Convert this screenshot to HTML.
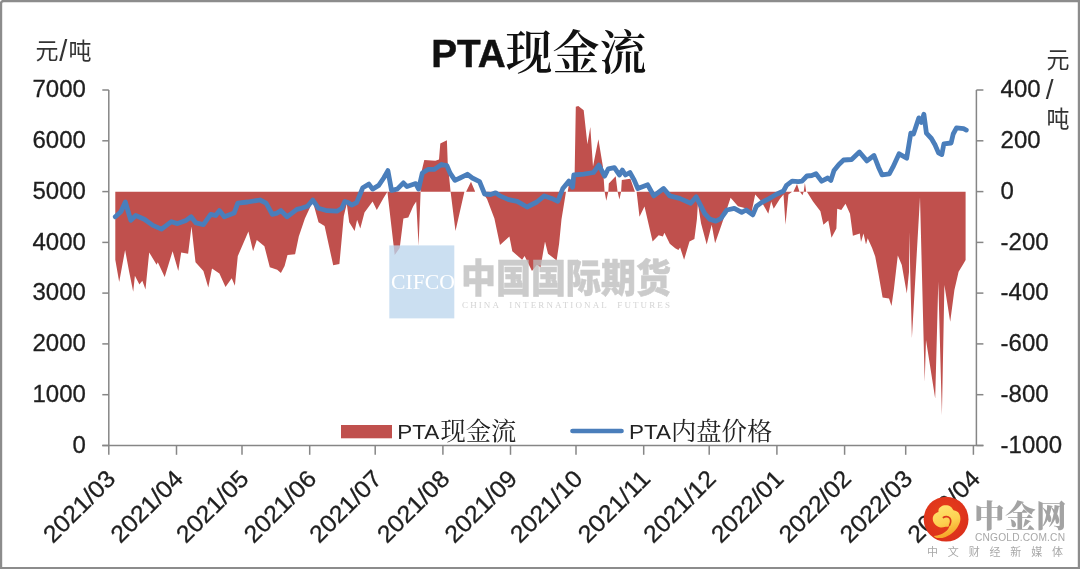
<!DOCTYPE html>
<html lang="zh"><head><meta charset="utf-8"><title>PTA现金流</title>
<style>html,body{margin:0;padding:0;background:#fff}body{width:1080px;height:569px;overflow:hidden}svg{display:block}</style>
</head><body>
<svg width="1080" height="569" viewBox="0 0 1080 569">
<rect x="0" y="0" width="1080" height="569" fill="#fff"/>
<polygon points="115.3,191.7 115.3,259.8 119.2,282.0 125.1,250.0 129.0,270.9 133.2,291.8 134.9,275.8 139.4,284.4 142.3,280.7 145.5,289.4 149.2,252.4 156.6,264.7 157.8,262.3 164.7,277.0 172.6,251.2 178.3,270.9 181.2,252.4 188.1,253.7 191.5,226.6 195.5,262.3 203.4,270.9 208.3,287.6 212.0,268.4 219.4,273.4 225.5,286.9 231.7,278.3 234.9,285.7 237.8,256.1 248.4,231.5 253.1,251.2 256.8,240.1 264.4,246.3 269.8,267.2 277.2,269.7 280.9,272.9 284.6,266.0 287.5,254.9 295.1,254.2 298.8,236.4 304.9,218.6 312.8,201.4 318.5,222.3 324.6,226.0 333.2,265.3 339.4,264.1 343.8,216.1 346.8,203.8 349.2,222.3 354.6,230.9 357.1,219.8 360.3,228.4 364.5,212.4 372.6,201.4 376.8,210.0 383.7,197.7 387.4,191.7 394.7,255.0 399.7,248.1 403.4,218.6 408.3,217.4 413.2,206.3 416.2,201.4 418.6,245.7 420.6,191.7 421.8,170.6 424.3,160.0 435.3,160.8 439.0,159.5 440.3,143.5 446.9,140.3 447.7,162.0 450.6,191.7 455.5,230.9 464.4,191.7 466.1,191.7 471.0,181.7 475.2,191.7 482.1,191.7 487.0,198.9 494.4,218.6 500.0,245.1 509.4,236.4 512.3,251.2 522.1,259.8 524.6,256.1 532.0,270.9 536.9,264.7 540.6,267.2 545.0,241.4 548.0,253.7 556.6,260.6 559.1,243.8 561.5,219.2 566.0,191.7 567.7,191.7 569.4,181.6 573.3,179.2 574.6,176.2 575.8,106.8 578.3,106.1 583.7,110.3 587.4,144.2 590.3,127.0 593.0,166.4 598.4,139.3 602.9,166.4 604.6,191.7 606.3,200.8 608.3,191.7 608.8,183.6 615.7,176.2 617.6,191.7 619.4,199.6 621.1,191.7 621.8,179.9 630.4,178.7 634.9,191.7 636.6,191.7 639.5,216.8 644.5,206.4 652.6,241.4 658.7,235.2 662.9,236.4 664.4,232.8 669.8,243.8 675.2,248.3 678.4,250.0 680.1,247.5 684.1,259.8 689.5,241.4 694.4,238.9 696.9,219.2 697.9,203.8 701.1,223.5 706.7,244.4 711.7,224.7 715.1,243.2 722.0,223.5 730.6,197.7 738.0,206.3 745.4,208.3 751.5,212.4 755.2,194.5 761.4,201.4 768.3,213.7 771.2,201.4 773.7,208.7 779.8,198.9 783.5,194.5 785.5,224.7 788.4,194.5 792.1,191.7 793.4,191.7 797.0,184.1 799.5,191.7 800.0,191.7 802.5,195.2 803.7,191.7 804.9,182.9 806.2,191.7 806.9,191.7 813.0,201.4 820.4,211.2 823.4,224.7 828.3,220.6 831.5,237.8 836.4,228.4 837.2,208.7 841.3,210.0 845.5,203.8 850.0,213.7 852.9,235.8 859.8,233.4 861.0,242.0 863.5,233.4 866.0,244.4 867.7,238.3 872.1,248.1 875.2,256.4 878.4,273.4 882.6,297.5 889,298.6 891.5,306 893.8,290 897.8,255.5 901.8,265 906.8,293.4 909.0,272 909.5,232 910.2,272 911.9,338 920,197.3 924.7,382 926,340 935.2,398.5 938.3,281.8 941.9,415 944.4,285 950.2,321.8 954.4,290 958.6,271.7 963.6,263.4 965.6,260 965.6,191.7" fill="#c0504d"/>
<g stroke="#868686" stroke-width="1.5" fill="none">
<line x1="108.8" y1="90.0" x2="108.8" y2="445.5"/>
<line x1="976.4" y1="90.0" x2="976.4" y2="445.5"/>
<line x1="102.3" y1="445.5" x2="983.4" y2="445.5"/>
<line x1="102.3" y1="90.0" x2="108.8" y2="90.0"/>
<line x1="976.4" y1="90.0" x2="983.4" y2="90.0"/>
<line x1="102.3" y1="140.8" x2="108.8" y2="140.8"/>
<line x1="976.4" y1="140.8" x2="983.4" y2="140.8"/>
<line x1="102.3" y1="191.6" x2="108.8" y2="191.6"/>
<line x1="976.4" y1="191.6" x2="983.4" y2="191.6"/>
<line x1="102.3" y1="242.4" x2="108.8" y2="242.4"/>
<line x1="976.4" y1="242.4" x2="983.4" y2="242.4"/>
<line x1="102.3" y1="293.1" x2="108.8" y2="293.1"/>
<line x1="976.4" y1="293.1" x2="983.4" y2="293.1"/>
<line x1="102.3" y1="343.9" x2="108.8" y2="343.9"/>
<line x1="976.4" y1="343.9" x2="983.4" y2="343.9"/>
<line x1="102.3" y1="394.7" x2="108.8" y2="394.7"/>
<line x1="976.4" y1="394.7" x2="983.4" y2="394.7"/>
<line x1="102.3" y1="445.5" x2="108.8" y2="445.5"/>
<line x1="976.4" y1="445.5" x2="983.4" y2="445.5"/>
<line x1="108.8" y1="445.5" x2="108.8" y2="454.8"/>
<line x1="176.5" y1="445.5" x2="176.5" y2="454.8"/>
<line x1="242.0" y1="445.5" x2="242.0" y2="454.8"/>
<line x1="309.7" y1="445.5" x2="309.7" y2="454.8"/>
<line x1="375.2" y1="445.5" x2="375.2" y2="454.8"/>
<line x1="442.9" y1="445.5" x2="442.9" y2="454.8"/>
<line x1="510.5" y1="445.5" x2="510.5" y2="454.8"/>
<line x1="576.0" y1="445.5" x2="576.0" y2="454.8"/>
<line x1="643.7" y1="445.5" x2="643.7" y2="454.8"/>
<line x1="709.2" y1="445.5" x2="709.2" y2="454.8"/>
<line x1="776.9" y1="445.5" x2="776.9" y2="454.8"/>
<line x1="844.6" y1="445.5" x2="844.6" y2="454.8"/>
<line x1="905.7" y1="445.5" x2="905.7" y2="454.8"/>
<line x1="973.4" y1="445.5" x2="973.4" y2="454.8"/>
</g>
<polyline points="115.3,216.8 120.9,211.8 125.3,202.0 130.8,220.4 135.7,215.5 144.3,219.2 152.9,225.4 161.5,229.1 171.4,221.7 177.5,223.6 186.1,220.4 191.1,216.8 196.0,222.9 203.4,224.6 210.7,214.3 215.7,215.5 219.4,210.6 224.3,216.8 234.1,213.1 237.8,203.2 247.7,202.0 260.0,200.0 266.1,203.2 272.3,214.3 277.2,213.1 280.9,210.6 287.0,216.8 296.9,209.4 300.0,208.7 307.4,206.3 312.8,200.1 318.5,208.3 327.1,210.7 336.9,211.2 341.8,208.3 344.8,201.4 348.0,202.6 351.7,205.1 356.6,202.6 362.8,187.8 368.9,184.1 372.6,189.1 378.7,185.4 383.7,178.0 387.9,170.6 391.5,190.3 397.2,189.1 403.4,182.9 407.0,186.6 415.7,183.6 418.6,189.1 422.3,173.1 428.0,169.4 434.1,169.4 441.5,164.5 446.9,165.7 450.1,173.1 455.0,180.4 460.0,178.0 467.3,174.3 472.3,178.0 479.6,181.7 484.6,194.0 490.7,194.5 495.6,192.8 500.0,195.9 508.6,199.6 517.2,201.3 527.1,207.0 536.9,202.0 544.3,195.9 551.7,198.4 557.8,201.3 562.8,188.5 568.9,181.1 572.6,187.3 573.8,175.0 583.7,174.2 593.5,172.5 598.9,165.1 604.6,176.2 608.3,168.8 614.4,167.6 619.4,175.0 622.3,170.1 625.5,175.0 629.9,172.5 634.1,179.9 637.8,188.5 647.7,184.8 653.8,195.9 663.6,188.5 669.8,195.9 679.6,198.4 690.7,203.3 696.2,196.9 699.8,203.8 704.8,213.7 709.7,219.1 715.8,221.1 720.8,218.6 726.9,210.0 734.3,208.3 741.7,212.4 746.1,210.0 752.8,214.9 756.4,206.3 761.4,202.6 768.7,198.9 776.1,194.5 783.5,191.0 786.5,185.4 792.1,181.2 798.3,181.7 802.0,181.2 806.9,176.0 811.8,175.5 816.0,173.8 821.7,181.2 827.8,178.0 830.8,180.4 834.0,170.6 838.9,164.5 843.6,160.0 851.6,159.5 859.4,152.0 866.9,160.9 874.0,155.5 878.5,167.2 882.1,174.9 889.3,173.8 892.9,167.2 899.1,153.8 906.7,158.2 910.8,133.1 913.5,134.0 918.8,117.9 921.5,122.4 923.9,114.3 926.4,133.1 931.4,138.5 935.0,144.8 938.5,152.9 941.8,154.6 943.9,143.9 951.1,143.0 953.2,134.0 956.5,127.8 963.6,128.7 966.3,130.1" fill="none" stroke="#4a7ebb" stroke-width="4.8" stroke-linejoin="round" stroke-linecap="round"/>
<g font-family="'Liberation Sans', sans-serif" font-size="24" fill="#1c1c1c" stroke="#1c1c1c" stroke-width="0.3" opacity="0.99">
<text x="85.9" y="97.3" text-anchor="end">7000</text>
<text x="1000.6" y="97.3">400</text>
<text x="85.9" y="148.1" text-anchor="end">6000</text>
<text x="1000.6" y="148.1">200</text>
<text x="85.9" y="198.9" text-anchor="end">5000</text>
<text x="1000.6" y="198.9">0</text>
<text x="85.9" y="249.7" text-anchor="end">4000</text>
<text x="1000.6" y="249.7">-200</text>
<text x="85.9" y="300.4" text-anchor="end">3000</text>
<text x="1000.6" y="300.4">-400</text>
<text x="85.9" y="351.2" text-anchor="end">2000</text>
<text x="1000.6" y="351.2">-600</text>
<text x="85.9" y="402.0" text-anchor="end">1000</text>
<text x="1000.6" y="402.0">-800</text>
<text x="85.9" y="452.8" text-anchor="end">0</text>
<text x="1000.6" y="452.8">-1000</text>
<text transform="translate(116.89999999999999,480.2) rotate(-45)" text-anchor="end" textLength="90.5" lengthAdjust="spacingAndGlyphs">2021/03</text>
<text transform="translate(184.6,480.2) rotate(-45)" text-anchor="end" textLength="90.5" lengthAdjust="spacingAndGlyphs">2021/04</text>
<text transform="translate(250.1,480.2) rotate(-45)" text-anchor="end" textLength="90.5" lengthAdjust="spacingAndGlyphs">2021/05</text>
<text transform="translate(317.8,480.2) rotate(-45)" text-anchor="end" textLength="90.5" lengthAdjust="spacingAndGlyphs">2021/06</text>
<text transform="translate(383.3,480.2) rotate(-45)" text-anchor="end" textLength="90.5" lengthAdjust="spacingAndGlyphs">2021/07</text>
<text transform="translate(451.0,480.2) rotate(-45)" text-anchor="end" textLength="90.5" lengthAdjust="spacingAndGlyphs">2021/08</text>
<text transform="translate(518.6,480.2) rotate(-45)" text-anchor="end" textLength="90.5" lengthAdjust="spacingAndGlyphs">2021/09</text>
<text transform="translate(584.1,480.2) rotate(-45)" text-anchor="end" textLength="90.5" lengthAdjust="spacingAndGlyphs">2021/10</text>
<text transform="translate(651.8000000000001,480.2) rotate(-45)" text-anchor="end" textLength="90.5" lengthAdjust="spacingAndGlyphs">2021/11</text>
<text transform="translate(717.3000000000001,480.2) rotate(-45)" text-anchor="end" textLength="90.5" lengthAdjust="spacingAndGlyphs">2021/12</text>
<text transform="translate(785.0,480.2) rotate(-45)" text-anchor="end" textLength="90.5" lengthAdjust="spacingAndGlyphs">2022/01</text>
<text transform="translate(852.7,480.2) rotate(-45)" text-anchor="end" textLength="90.5" lengthAdjust="spacingAndGlyphs">2022/02</text>
<text transform="translate(913.8000000000001,480.2) rotate(-45)" text-anchor="end" textLength="90.5" lengthAdjust="spacingAndGlyphs">2022/03</text>
<text transform="translate(981.5,480.2) rotate(-45)" text-anchor="end" textLength="90.5" lengthAdjust="spacingAndGlyphs">2022/04</text>
</g>
<g font-family="'Liberation Sans', 'Noto Sans CJK SC', sans-serif" font-size="23" fill="#333">
<text x="35.5" y="59.3">元</text><text x="59.3" y="61" font-size="29">/</text><text x="68.6" y="59.3">吨</text>
<text x="1046.5" y="67.5">元</text><text x="1045.7" y="99" font-size="28">/</text><text x="1046.5" y="127">吨</text>
</g>
<text x="431.3" y="67.3" font-size="38.8" font-weight="bold" fill="#111" stroke="#111" stroke-width="0.5" font-family="'Liberation Sans', sans-serif" textLength="74.5" lengthAdjust="spacingAndGlyphs">PTA</text>
<text x="505.5" y="68.5" font-size="47" font-weight="600" fill="#111" font-family="'Liberation Serif', 'Noto Serif CJK SC', serif">现金流</text>
<rect x="341" y="425" width="51" height="13.3" fill="#c0504d"/>
<text x="397.3" y="439.2" font-size="20.5" fill="#222" font-family="'Liberation Sans', sans-serif" textLength="42" lengthAdjust="spacingAndGlyphs">PTA</text>
<text x="440.5" y="439.5" font-size="25.3" fill="#222" font-family="'Liberation Serif', 'Noto Serif CJK SC', serif">现金流</text>
<line x1="572.5" y1="431" x2="621.5" y2="431" stroke="#4a7ebb" stroke-width="4.7" stroke-linecap="round"/>
<text x="629" y="439.2" font-size="20.5" fill="#222" font-family="'Liberation Sans', sans-serif" textLength="42" lengthAdjust="spacingAndGlyphs">PTA</text>
<text x="671" y="439.5" font-size="25.3" fill="#222" font-family="'Liberation Serif', 'Noto Serif CJK SC', serif">内盘价格</text>
<g opacity="0.78">
<rect x="389.3" y="245.4" width="65" height="73" fill="#bdd7ee"/>
<text x="391" y="289" font-family="'Liberation Serif', serif" font-size="21" fill="#fff" textLength="64" lengthAdjust="spacingAndGlyphs">CIFCO</text>
<text transform="translate(461,292.3) scale(1,1.12)" x="0" y="0" font-family="'Liberation Sans', 'Noto Sans CJK SC', sans-serif" font-weight="900" font-size="35" fill="#bdbdbd" stroke="#bdbdbd" stroke-width="0.5" textLength="210" lengthAdjust="spacing">中国国际期货</text>
<text x="462" y="307.5" font-family="'Liberation Serif', serif" font-size="9" fill="#c8c8c8" textLength="208" lengthAdjust="spacing" style="white-space:pre">CHINA  INTERNATIONAL  FUTURES</text>
</g>
<defs><radialGradient id="lg" cx="0.45" cy="0.4" r="0.75"><stop offset="0" stop-color="#e8401a"/><stop offset="1" stop-color="#d82c1c"/></radialGradient><linearGradient id="yg" x1="0.2" y1="0" x2="0.5" y2="1"><stop offset="0" stop-color="#ffe470"/><stop offset="0.55" stop-color="#fdd050"/><stop offset="1" stop-color="#f5a024"/></linearGradient></defs>
<circle cx="946.1" cy="519.2" r="22.4" fill="url(#lg)"/>
<path d="M932.8 519.5 C932.5 516.5 934 513.5 938.5 512 C938 509 939.5 507.5 941 506.8 C943 505 948 504.8 950.7 506.8 C952.3 508 952.8 509.5 953.5 510.3 C956 510.5 958.5 512 959.3 514 C961 517 960.8 522 958.3 525.7 C956.5 529 955 530.5 953.7 531.8 C951 534.5 948 536 945.6 536.9 C942.5 538 939.5 538.3 936.9 537.9 C935.5 537.6 934.3 537 933.8 536.1 C936 535.8 938.5 535.3 940.5 534.6 C943 533.5 945 532.3 946.6 530.8 C948 529.5 949 527.8 949.6 525.7 C948 526.8 946.5 526.9 945.6 526.8 C943.5 527.3 942 527.8 940.5 527.5 C938 527 936.3 526 935.4 524.8 C933.8 523 933 521.5 932.8 519.5 Z" fill="url(#yg)"/>
<path d="M943.4 517.5 C945 516.2 948 516.2 949.7 518 C951.1 519.8 950.9 522.5 949.6 525.2" fill="none" stroke="#dc3a1b" stroke-width="1.7" stroke-linecap="round"/>
<text x="974" y="526.5" font-family="'Liberation Serif', 'Noto Serif CJK SC', serif" font-weight="900" font-size="30.5" fill="#a3a3a3" textLength="92.5" lengthAdjust="spacing">中金网</text>
<text x="975" y="541.3" font-family="'Liberation Sans', sans-serif" font-size="10.2" fill="#a8a8a8" textLength="90" lengthAdjust="spacing">CNGOLD.COM.CN</text>
<text x="927" y="555.5" font-family="'Liberation Sans', 'Noto Sans CJK SC', sans-serif" font-size="11" fill="#a8a8a8" textLength="136" lengthAdjust="spacing">中 文 财 经 新 媒 体</text>
<path d="M1 569 V4 Q1 1 4 1 H1080" fill="none" stroke="#8c8c8c" stroke-width="2.4"/>
<path d="M1078.9 0 V568 H0" fill="none" stroke="#8c8c8c" stroke-width="2.2"/>
</svg>
</body></html>
